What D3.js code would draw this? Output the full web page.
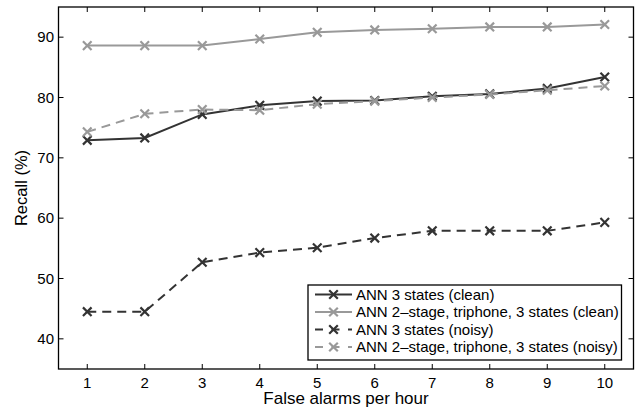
<!DOCTYPE html>
<html>
<head>
<meta charset="utf-8">
<script src="https://cdn.jsdelivr.net/npm/d3@7"></script>
<style>
	html, body { margin: 0; padding: 0; background: #fff; }
	svg { display: block; font-family: "Liberation Sans", Arial, Helvetica, sans-serif; }
</style>
</head>
<body>
<svg id="chart" width="638" height="408"></svg>
<script>
// false alarms per hour
const alarms = [1, 2, 3, 4, 5, 6, 7, 8, 9, 10]

// recall (%) per system
const ann3Clean = [72.9, 73.3, 77.2, 78.7, 79.4, 79.5, 80.2, 80.6, 81.5, 83.4]
const ann2StageClean = [88.6, 88.6, 88.6, 89.7, 90.8, 91.2, 91.4, 91.7, 91.7, 92.1]
const ann3Noisy = [44.5, 44.5, 52.7, 54.3, 55.1, 56.7, 57.9, 57.9, 57.9, 59.3]
const ann2StageNoisy = [74.3, 77.3, 78.0, 77.9, 78.9, 79.4, 80.0, 80.5, 81.2, 81.9]

const seriesNames = [
	'ANN 3 states (clean)',
	'ANN 2\u2013stage, triphone, 3 states (clean)',
	'ANN 3 states (noisy)',
	'ANN 2\u2013stage, triphone, 3 states (noisy)'
]

const xTicks = [1, 2, 3, 4, 5, 6, 7, 8, 9, 10]
const yTicks = [40, 50, 60, 70, 80, 90]

const DARK = '#333'
const GRAY = '#999'

const series = [
	{ name: seriesNames[0], values: ann3Clean, color: DARK, dash: null },
	{ name: seriesNames[1], values: ann2StageClean, color: GRAY, dash: null },
	{ name: seriesNames[2], values: ann3Noisy, color: DARK, dash: '9,6' },
	{ name: seriesNames[3], values: ann2StageNoisy, color: GRAY, dash: '9,6' }
]

const L = 58.5, R = 633.5, T = 7, B = 369

const x = d3.scaleLinear().domain([0.5, 10.5]).range([L, R])
const y = d3.scaleLinear().domain([35, 95]).range([B, T])

const svg = d3.select('#chart')

// plot lines
const line = d3.line()
	.x((d, i) => x(alarms[i]))
	.y(d => y(d))

const cross = (g, cx, cy, color) => {
	const s = 4.3
	g.append('path')
		.attr('d', `M${cx - s},${cy - s}L${cx + s},${cy + s}M${cx - s},${cy + s}L${cx + s},${cy - s}`)
		.attr('stroke', color)
		.attr('stroke-width', 2.2)
		.attr('fill', 'none')
}

for (const s of series) {
	const g = svg.append('g')
	g.append('path')
		.datum(s.values)
		.attr('d', line)
		.attr('fill', 'none')
		.attr('stroke', s.color)
		.attr('stroke-width', 2)
		.attr('stroke-dasharray', s.dash)
	s.values.forEach((v, i) => cross(g, x(alarms[i]), y(v), s.color))
}

// box + ticks (matlab style, ticks inward on all sides)
const axes = svg.append('g').attr('stroke', '#000').attr('fill', 'none')
axes.append('rect')
	.attr('x', L).attr('y', T)
	.attr('width', R - L).attr('height', B - T)
	.attr('stroke-width', 1.3)

const tickLen = 5
xTicks.forEach(t => {
	axes.append('line').attr('x1', x(t)).attr('x2', x(t)).attr('y1', B).attr('y2', B - tickLen)
	axes.append('line').attr('x1', x(t)).attr('x2', x(t)).attr('y1', T).attr('y2', T + tickLen)
})
yTicks.forEach(t => {
	axes.append('line').attr('y1', y(t)).attr('y2', y(t)).attr('x1', L).attr('x2', L + tickLen)
	axes.append('line').attr('y1', y(t)).attr('y2', y(t)).attr('x1', R).attr('x2', R - tickLen)
})

// tick labels
svg.append('g')
	.selectAll('text')
	.data(xTicks)
	.join('text')
	.attr('x', d => x(d))
	.attr('y', 387.5)
	.attr('text-anchor', 'middle')
	.attr('font-size', 15)
	.text(d => d)

svg.append('g')
	.selectAll('text')
	.data(yTicks)
	.join('text')
	.attr('x', L - 4.5)
	.attr('y', d => y(d) + 5)
	.attr('text-anchor', 'end')
	.attr('font-size', 15)
	.text(d => d)

// axis labels
svg.append('text')
	.attr('x', (L + R) / 2)
	.attr('y', 404)
	.attr('text-anchor', 'middle')
	.attr('font-size', 17)
	.text('False alarms per hour')

svg.append('text')
	.attr('transform', `translate(27,${(T + B) / 2}) rotate(-90)`)
	.attr('text-anchor', 'middle')
	.attr('font-size', 16.5)
	.text('Recall (%)')

// legend
const lg = svg.append('g')
lg.append('rect')
	.attr('x', 308).attr('y', 285)
	.attr('width', 313.5).attr('height', 75)
	.attr('fill', '#fff')
	.attr('stroke', '#000')
	.attr('stroke-width', 1.3)

series.forEach((s, i) => {
	const cy = 294.5 + i * 17.5
	lg.append('line')
		.attr('x1', 315).attr('x2', 352)
		.attr('y1', cy).attr('y2', cy)
		.attr('stroke', s.color)
		.attr('stroke-width', 2)
		.attr('stroke-dasharray', s.dash ? '8,8.5' : null)
	cross(lg, 333.5, cy, s.color)
	lg.append('text')
		.attr('x', 356)
		.attr('y', cy + 5.2)
		.attr('font-size', 15)
		.text(s.name)
})
</script>
</body>
</html>
